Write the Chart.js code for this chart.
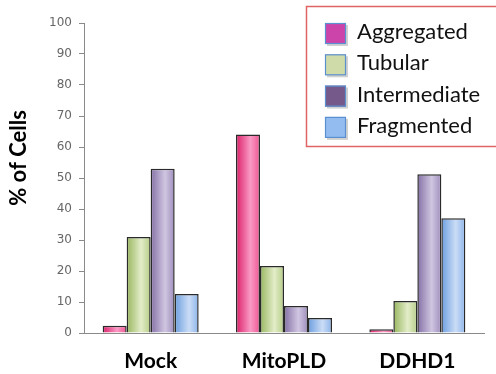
<!DOCTYPE html>
<html>
<head>
<meta charset="utf-8">
<script src="https://cdn.jsdelivr.net/npm/chart.js@4/dist/chart.umd.min.js"></script>
<style>
  html, body { margin: 0; padding: 0; background: #fff; }
  #wrap { width: 496px; height: 374px; }
</style>
</head>
<body>
<div id="wrap"><canvas id="chart1"></canvas></div>
<script>
// data
const categories = ['Mock', 'MitoPLD', 'DDHD1'];
const seriesNames = ['Aggregated', 'Tubular', 'Intermediate', 'Fragmented'];
const aggregated = [2.3, 64, 1.2];
const tubular = [31, 21.6, 10.3];
const intermediate = [53, 8.7, 51.2];
const fragmented = [12.6, 4.8, 37];
const yTicks = [0, 10, 20, 30, 40, 50, 60, 70, 80, 90, 100];
const yTitle = '% of Cells';

// bar gradients: dark edge, light band, medium edge
const barStops = [
    ['#dc1f69', '#f99ac4', '#ee5592'],
    ['#97b65e', '#e3edc9', '#b5cd86'],
    ['#8470a6', '#d0c6e1', '#9e8dbd'],
    ['#6c9edf', '#cbddf6', '#8cb4ea']
];
const legendColors = ['#cc44aa', '#cfdca9', '#76598b', '#93bdf0'];

const catPct = 0.72;

const barFill = (dsIndex) => (c) => {
    const chart = c.chart;
    const x = chart.scales && chart.scales.x;
    if (!chart.chartArea || !x || c.dataIndex === undefined) return barStops[dsIndex][1];
    const catW = x.width / categories.length;
    const groupW = catW * catPct;
    const barW = groupW / seriesNames.length;
    const left = x.getPixelForValue(c.dataIndex) - groupW / 2 + dsIndex * barW;
    const g = chart.ctx.createLinearGradient(left, 0, left + barW, 0);
    g.addColorStop(0, barStops[dsIndex][0]);
    g.addColorStop(0.6, barStops[dsIndex][1]);
    g.addColorStop(1, barStops[dsIndex][2]);
    return g;
};

// boxed legend top right + y title sitting a bit above centre
const boxLegend = {
    id: 'boxLegend',
    afterDraw(chart) {
        const ctx = chart.ctx;
        ctx.save();
        ctx.strokeStyle = '#e06464';
        ctx.lineWidth = 1.5;
        ctx.strokeRect(306.5, 6.5, 195, 140);
        ctx.font = '22px Lato';
        ctx.textBaseline = 'middle';
        chart.data.datasets.forEach((ds, i) => {
            const y = 33 + i * 31.3;
            ctx.fillStyle = 'rgba(0,0,0,0.18)';
            ctx.fillRect(327, y - 8, 21, 21);
            ctx.fillStyle = legendColors[i];
            ctx.fillRect(325, y - 10, 21, 21);
            ctx.strokeStyle = '#5a8fd0';
            ctx.lineWidth = 1.2;
            ctx.strokeRect(325.5, y - 9.5, 20, 20);
            ctx.fillStyle = '#111';
            ctx.fillText(ds.label, 357, y - 1);
        });

        // y axis title
        ctx.translate(19, 158);
        ctx.rotate(-Math.PI / 2);
        ctx.font = 'bold 22px Lato';
        ctx.textAlign = 'center';
        ctx.fillStyle = '#000';
        ctx.fillText(yTitle, 0, 0);
        ctx.restore();
    }
};

const makeDataset = (label, values, i) => ({
    label: label,
    data: values,
    backgroundColor: barFill(i),
    borderColor: '#2a2a2a',
    borderWidth: 1.5,
    borderSkipped: 'bottom',
    categoryPercentage: catPct,
    barPercentage: 1.0
});

window.onload = () => {
    const ctx1 = document.getElementById('chart1').getContext('2d');
    new Chart(ctx1, {
        type: 'bar',
        data: {
            labels: categories,
            datasets: [
                makeDataset(seriesNames[0], aggregated, 0),
                makeDataset(seriesNames[1], tubular, 1),
                makeDataset(seriesNames[2], intermediate, 2),
                makeDataset(seriesNames[3], fragmented, 3)
            ]
        },
        options: {
            responsive: true,
            maintainAspectRatio: false,
            animation: false,
            layout: { padding: { top: 23, right: 12, left: 0, bottom: 0 } },
            scales: {
                x: {
                    grid: { display: false, drawTicks: false },
                    border: { display: true, color: '#8a8a8a', width: 1 },
                    ticks: {
                        color: '#000',
                        padding: 16,
                        font: { family: 'Lato', size: 21, weight: 'bold' }
                    },
                    afterFit: (s) => { s.height = 41; }
                },
                y: {
                    min: 0,
                    max: 100,
                    afterBuildTicks: (s) => { s.ticks = yTicks.map(v => ({ value: v })); },
                    grid: { drawOnChartArea: false, tickLength: 5, color: '#8a8a8a' },
                    border: { display: true, color: '#8a8a8a', width: 1 },
                    ticks: {
                        color: '#666',
                        padding: 7,
                        font: { family: 'DejaVu Sans', size: 12 }
                    },
                    afterFit: (s) => { s.width = 84; }
                }
            },
            plugins: {
                legend: { display: false },
                tooltip: { enabled: false }
            }
        },
        plugins: [boxLegend]
    });
};
</script>
</body>
</html>
